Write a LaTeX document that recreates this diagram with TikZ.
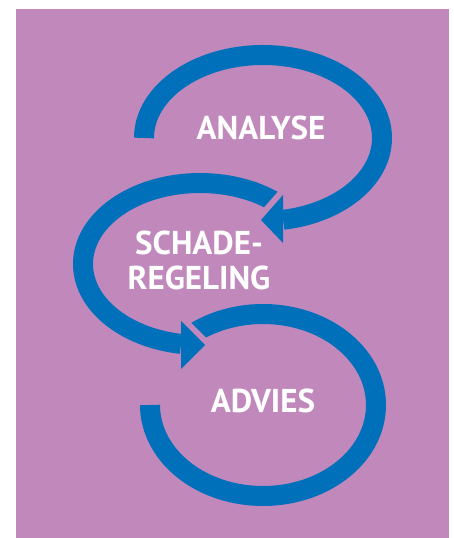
\documentclass[tikz,border=0pt]{standalone}
\usepackage{fontspec}
\setmainfont{PT Sans}
\usetikzlibrary{calc}
\definecolor{bgPurple}{RGB}{193,137,187}
\definecolor{loopBlue}{RGB}{0,112,186}

\begin{document}
\begin{tikzpicture}[
    x=1pt, y=1pt,
    ring/.style={draw=loopBlue, line width=20pt},
    arrowhead/.style={fill=loopBlue},
    headgap/.style={draw=bgPurple, line width=12pt, line join=miter},
    phase/.style={text=white, font=\bfseries\fontsize{33}{35}\selectfont, align=center, anchor=base, inner sep=0pt}
]

\useasboundingbox (0,0) rectangle (454,538);
\fill[bgPurple] (16,0) rectangle (449,529);

\coordinate (c1) at (263,400);
\coordinate (c2) at (200,274);
\coordinate (c3) at (263,133);

\draw[ring] ($(c3)+(130:113 and 91)$) arc[start angle=130, end angle=-180, x radius=113, y radius=91];

\draw[headgap] (205,193) -- (181,217) -- (181,169) -- cycle;
\draw[ring] ($(c2)+(48:117 and 81)$) arc[start angle=48, end angle=260.7, x radius=117, y radius=81];
\fill[arrowhead] (205,193) -- (181,217) -- (181,169) -- cycle;

\draw[headgap] (261,318) -- (283,343) -- (283,295) -- cycle;
\draw[ring] ($(c1)+(180:119 and 83)$) arc[start angle=180, end angle=-80.3, x radius=119, y radius=83];
\fill[arrowhead] (261,318) -- (283,343) -- (283,295) -- cycle;

\node[phase] (analyse) at (261,398) {ANALYSE};
\node[phase] (schade) at (199,248) {SCHADE-\\REGELING};
\node[phase] (advies) at (263,125) {ADVIES};

\end{tikzpicture}
\end{document}
